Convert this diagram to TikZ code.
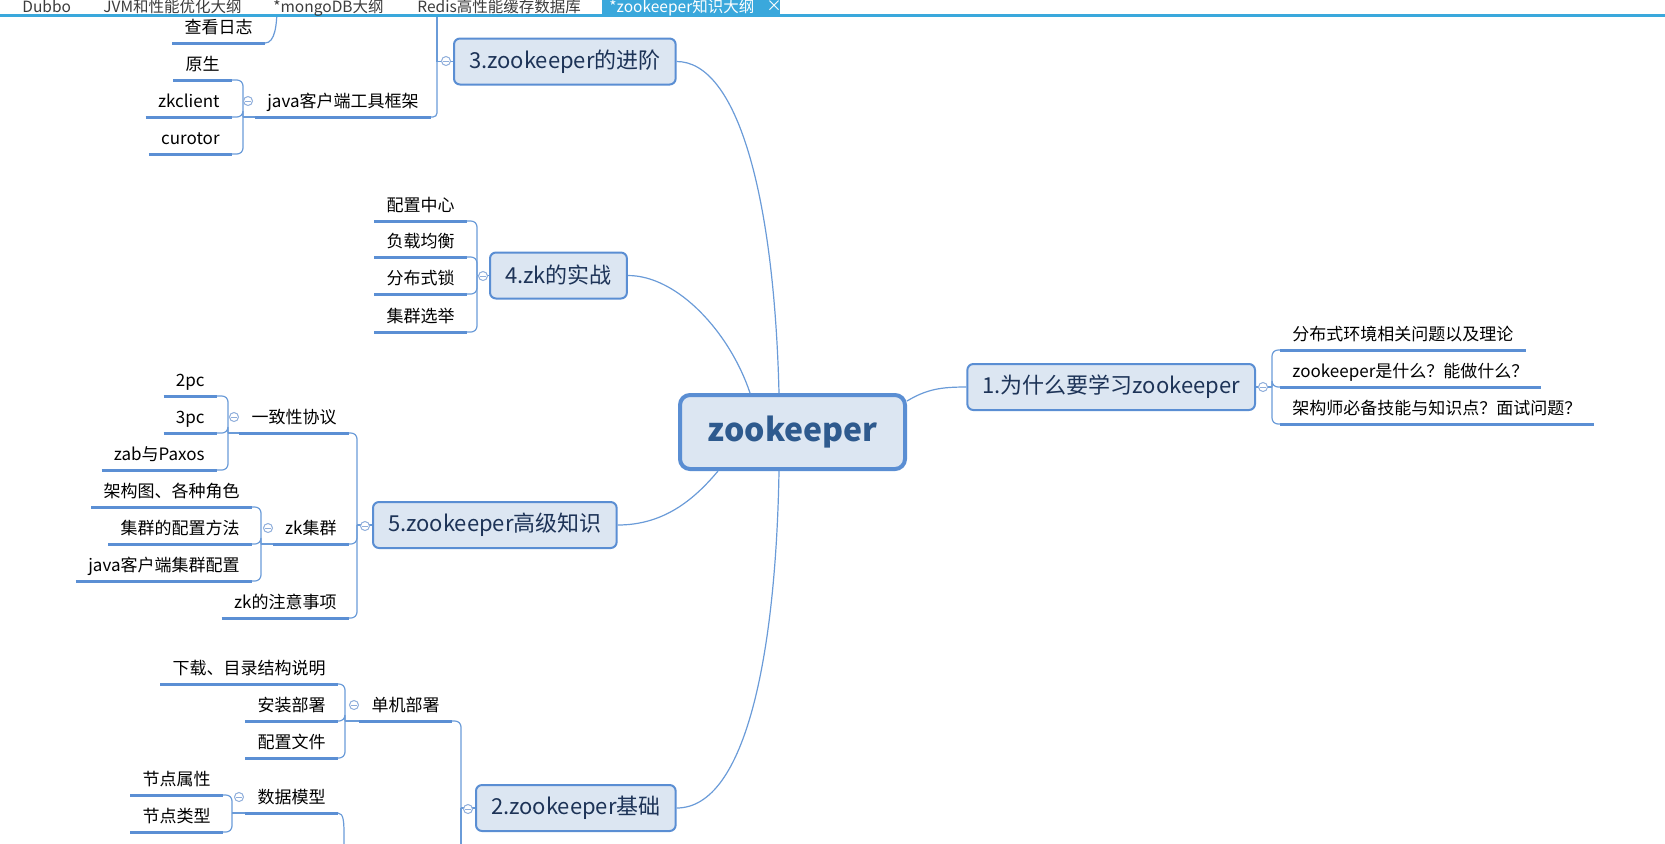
\documentclass[tikz,border=0pt]{standalone}
\usepackage{fontspec}
\setmainfont{Noto Sans CJK SC}

\definecolor{bleuligne}{HTML}{6A9BD8}
\definecolor{bleutrait}{HTML}{5B8FD4}
\definecolor{fondboite}{HTML}{DCE6F2}
\definecolor{bordboite}{HTML}{5A8ED3}
\definecolor{marine}{HTML}{1D3357}
\definecolor{titre}{HTML}{2E5A8E}
\definecolor{onglet}{HTML}{3AA8DC}
\definecolor{cercle}{HTML}{8FAEDB}
\definecolor{gristexte}{HTML}{3C3C3C}

\tikzset{
  centre/.style={draw=bordboite, line width=2pt, fill=fondboite, rounded corners=5pt,
    text=titre, font=\bfseries\fontsize{16}{19}\selectfont,
    minimum width=112.5pt, minimum height=37pt},
  boite/.style={draw=bordboite, line width=1pt, fill=fondboite, rounded corners=3pt,
    text=marine, font=\fontsize{11}{13}\selectfont, minimum height=23pt, inner xsep=7.5pt},
  sous/.style={font=\fontsize{8.5}{10}\selectfont, inner xsep=6pt, inner ysep=3pt,
    text height=7pt, text depth=1.8pt},
  trait/.style={draw=bleutrait, line width=1.5pt},
  lien/.style={draw=bleuligne, line width=0.6pt, rounded corners=3pt},
  moins/.style={circle, draw=cercle, fill=white, line width=0.5pt, minimum size=4.5pt,
    inner sep=0pt, path picture={\draw[cercle, line width=0.5pt]
      ([xshift=-1.3pt]path picture bounding box.center) --
      ([xshift=1.3pt]path picture bounding box.center);}},
  ongtxt/.style={font=\fontsize{7.75}{10}\selectfont, text=gristexte, inner sep=0pt}
}

\begin{document}
\begin{tikzpicture}[x=0.5pt,y=-0.5pt]
\useasboundingbox (0,0) rectangle (1665,843);
\clip (0,0) rectangle (1665,843);

% Noeud central et branches principales
\node[centre] (zk) at (792.5,432) {zookeeper};
\node[boite,anchor=east] (b1) at (1256,387) {1.为什么要学习zookeeper};
\node[boite,anchor=west] (b2) at (475,808) {2.zookeeper基础};
\node[boite,anchor=west] (b3) at (453,61.5) {3.zookeeper的进阶};
\node[boite,anchor=west] (b4) at (489,275.5) {4.zk的实战};
\node[boite,anchor=west] (b5) at (372,525) {5.zookeeper高级知识};

% Sous-branches (a droite)
\node[sous,anchor=south west] (r1) at (1280,350) {分布式环境相关问题以及理论};
\node[sous,anchor=south west] (r2) at (1280,387) {zookeeper是什么？能做什么？};
\node[sous,anchor=south west] (r3) at (1280,424) {架构师必备技能与知识点？面试问题？};

% Sous-branches (a gauche)
\node[sous,anchor=south east] (log) at (265,43) {查看日志};
\node[sous,anchor=south east] (yuan) at (232,80) {原生};
\node[sous,anchor=south east] (zkc) at (232,117) {zkclient};
\node[sous,anchor=south east] (cur) at (232,154) {curotor};
\node[sous,anchor=south east] (java) at (431,117) {java客户端工具框架};
\node[sous,anchor=south east] (pz) at (467,221) {配置中心};
\node[sous,anchor=south east] (fz) at (467,257) {负载均衡};
\node[sous,anchor=south east] (fbs) at (467,294) {分布式锁};
\node[sous,anchor=south east] (xj) at (467,332) {集群选举};
\node[sous,anchor=south east] (pc2) at (217,396) {2pc};
\node[sous,anchor=south east] (pc3) at (217,433) {3pc};
\node[sous,anchor=south east] (zab) at (217,470) {zab与Paxos};
\node[sous,anchor=south east] (yz) at (349,433) {一致性协议};
\node[sous,anchor=south east] (jg) at (252,507) {架构图、各种角色};
\node[sous,anchor=south east] (pzff) at (252,544) {集群的配置方法};
\node[sous,anchor=south east] (jcfg) at (252,581) {java客户端集群配置};
\node[sous,anchor=south east] (jq) at (349,544) {zk集群};
\node[sous,anchor=south east] (zy) at (349,618) {zk的注意事项};
\node[sous,anchor=south east] (xz) at (338,684) {下载、目录结构说明};
\node[sous,anchor=south east] (az) at (338,721) {安装部署};
\node[sous,anchor=south east] (pzwj) at (338,758) {配置文件};
\node[sous,anchor=south east] (dj) at (452,721) {单机部署};
\node[sous,anchor=south east] (sx) at (223,795) {节点属性};
\node[sous,anchor=south east] (lx) at (223,832) {节点类型};
\node[sous,anchor=south east] (dm) at (338,813) {数据模型};

% Points de depart des accolades
\coordinate (s1) at (1272,387);
\coordinate (s2) at (461,808);
\coordinate (s3) at (437,61.5);
\coordinate (s4) at (477,275.5);
\coordinate (s5) at (357,525);
\coordinate (sj) at (243,117);
\coordinate (sy) at (228,433);
\coordinate (sq) at (261,544);
\coordinate (sd) at (345,721);
\coordinate (sdm) at (232,813);
\coordinate (h3) at (437,-40);
\coordinate (hlog) at (277,0);
\coordinate (bdm) at (344,843);
\coordinate (bas2) at (461,900);

% Liens vers le noeud central
\draw[lien] (b3.east) .. controls +(60,0) and +(-5,-200) .. ([xshift=-6.75pt]zk.north);
\draw[lien] (b4.east) .. controls +(50,0) and +(-20,-60) .. ([xshift=-21.25pt]zk.north);
\draw[lien] (b5.east) .. controls +(45,0) and +(-25,30) .. ([xshift=-37.25pt]zk.south);
\draw[lien] (b2.east) .. controls +(70,0) and +(-3,180) .. ([xshift=-6.75pt]zk.south);
\draw[lien] ([yshift=-4pt]zk.north east) .. controls +(20,-12) and +(-25,0) .. (b1.west);

% Accolades
\draw[lien] (s1) -- (b1.east);
\foreach \c in {r1,r2,r3} \draw[lien] (s1) |- (\c.south west);
\draw[lien] (s3) -- (b3.west);
\draw[lien] (s3) -- (h3);
\draw[lien,rounded corners=2pt] (s3) |- (java.south east);
\draw[lien] (s4) -- (b4.west);
\draw[lien] (s5) -- (b5.west);
\draw[lien] (s2) -- (b2.west);
\draw[lien] (s2) -- (bas2);
\draw[lien] (sj) -- (java.south west);
\draw[lien] (sy) -- (yz.south west);
\draw[lien] (sq) -- (jq.south west);
\draw[lien] (sd) -- (dj.south west);
\draw[lien] (sdm) -- (dm.south west);
\foreach \p/\c in {s4/pz,s4/fz,s4/fbs,s4/xj,s5/yz,s5/jq,s5/zy,s2/dj,
                   sj/yuan,sj/zkc,sj/cur,sy/pc2,sy/pc3,sy/zab,
                   sq/jg,sq/pzff,sq/jcfg,sd/xz,sd/az,sd/pzwj,sdm/sx,sdm/lx}
  \draw[lien] (\p) |- (\c.south east);
\draw[lien] (log.south east) .. controls +(10,0) and +(0,25) .. (hlog) -- ++(0,-30);
\draw[lien] (dm.south east) .. controls +(6,0) and +(0,-20) .. (bdm) -- ++(0,30);

% Soulignements
\foreach \n in {r1,r2,r3,log,yuan,zkc,cur,java,pz,fz,fbs,xj,pc2,pc3,zab,yz,
                jg,pzff,jcfg,jq,zy,xz,az,pzwj,dj,sx,lx,dm}
  \draw[trait] (\n.south west) -- (\n.south east);

% Boutons de repli
\node[moins] (m1) at (1263,387) {};
\node[moins] (m2) at (468,809) {};
\node[moins] (m3) at (446,61) {};
\node[moins] (m4) at (483,276) {};
\node[moins] (m5) at (365,526) {};
\node[moins] (mj) at (248,101) {};
\node[moins] (my) at (234,417) {};
\node[moins] (mq) at (268,528) {};
\node[moins] (md) at (354,705) {};
\node[moins] (mdm) at (239,797) {};

% Barre d'onglets
\fill[white] (0,0) rectangle (1665,14);
\fill[onglet] (0,14) rectangle (1665,17);
\fill[onglet] (602,0) rectangle (780,15);
\node[ongtxt,anchor=base west] (t1) at (22,12) {Dubbo};
\node[ongtxt,anchor=base west] (t2) at (103,12) {JVM和性能优化大纲};
\node[ongtxt,anchor=base west] (t3) at (273,12) {*mongoDB大纲};
\node[ongtxt,anchor=base west] (t4) at (417,12) {Redis高性能缓存数据库};
\node[ongtxt,anchor=base west,text=white] (t5) at (609,12) {*zookeeper知识大纲};
\node[ongtxt,anchor=base west,text=white] (t6) at (766,11) {×};
\end{tikzpicture}
\end{document}
